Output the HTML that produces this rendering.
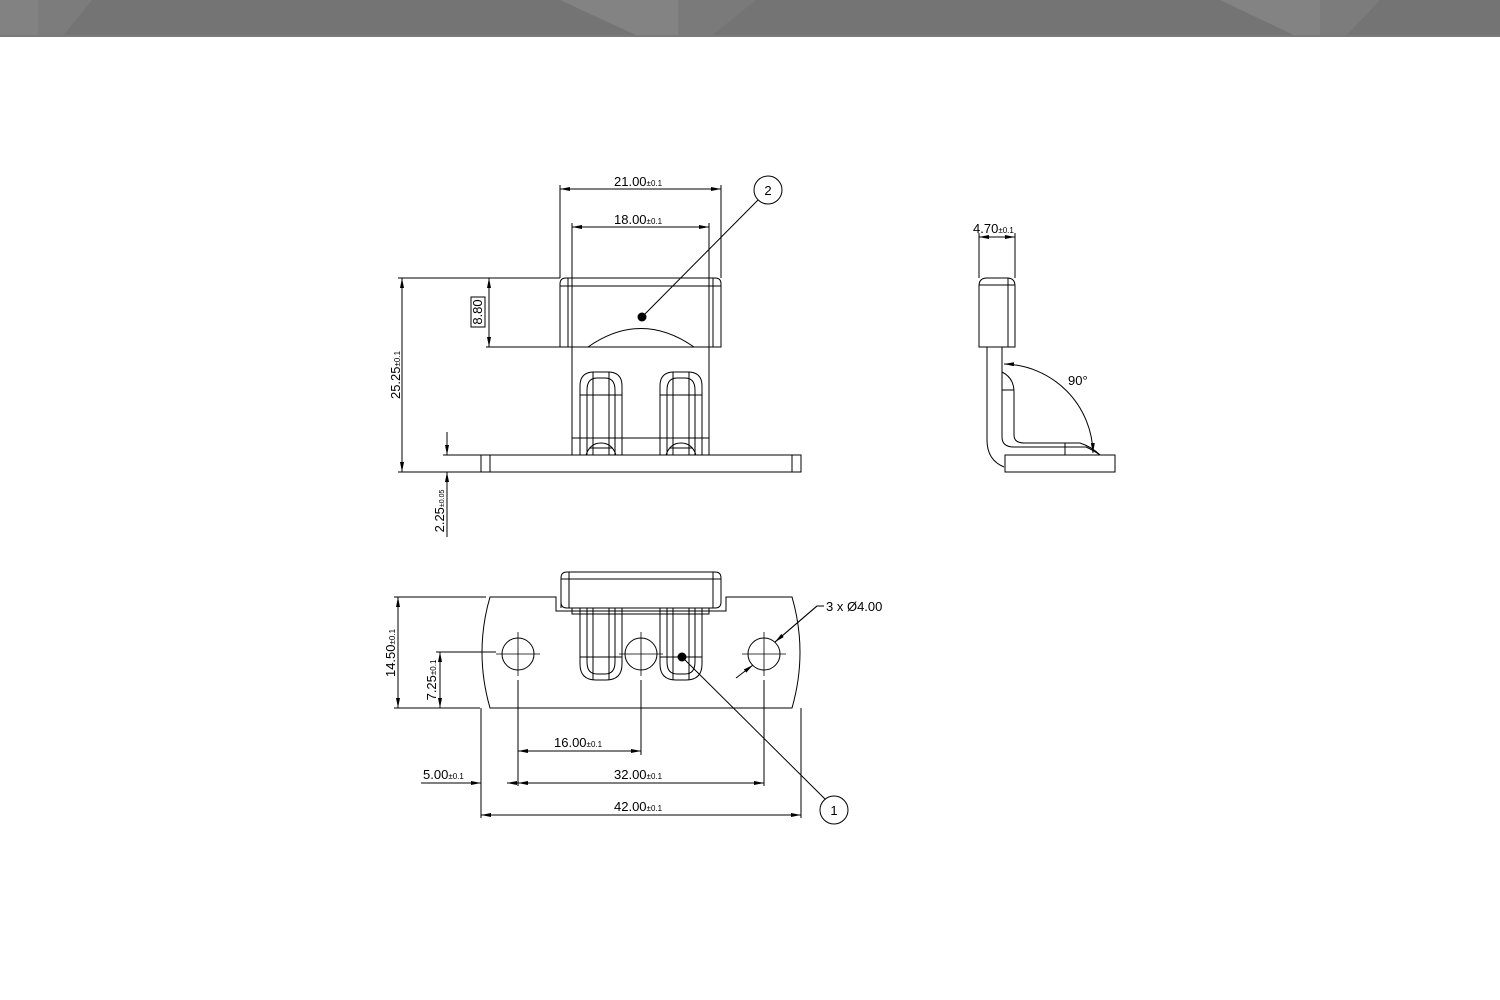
<!DOCTYPE html>
<html><head><meta charset="utf-8"><style>
html,body{margin:0;padding:0;background:#fff;}
svg{display:block;}
text{font-family:"Liberation Sans",Arial,sans-serif;fill:#000;}
</style></head><body>
<svg width="1500" height="1000" viewBox="0 0 1500 1000" xmlns="http://www.w3.org/2000/svg">
<defs>
<marker id="a" viewBox="0 0 10 4" refX="10" refY="2" markerWidth="10" markerHeight="4" markerUnits="userSpaceOnUse" orient="auto-start-reverse"><path d="M0,0 L10,2 L0,4z" fill="#000"/></marker>
</defs>
<!-- header -->
<rect x="0" y="0" width="1500" height="37" fill="#747474"/>
<polygon points="0,0 38,0 38,37 0,37" fill="#828282"/>
<polygon points="38,0 92,0 62,37 38,37" fill="#7c7c7c"/>
<polygon points="560,0 678,0 678,37 640,37" fill="#838383"/>
<polygon points="678,0 756,0 710,37 678,37" fill="#7a7a7a"/>
<polygon points="1220,0 1320,0 1320,37 1298,37" fill="#838383"/>
<polygon points="1320,0 1380,0 1345,37 1320,37" fill="#7c7c7c"/>
<rect x="0" y="35" width="1500" height="2" fill="#7a7a7a"/>

<g fill="none" stroke="#000" stroke-width="1">
<!-- FRONT VIEW -->
<path d="M560,185 V278 M721,185 V278 M572,223 V347 M709,223 V347"/>
<line x1="560" y1="189" x2="721" y2="189" marker-start="url(#a)" marker-end="url(#a)"/>
<line x1="572" y1="227" x2="709" y2="227" marker-start="url(#a)" marker-end="url(#a)"/>
<path d="M560,347 V284 Q560,278 566,278 H715 Q721,278 721,284 V347 Z"/>
<path d="M560,286 H721 M568,278 V347 M713,278 V347"/>
<path d="M588,347 Q641,310 694,347"/>
<path d="M572,347 V455 M709,347 V455 M572,438 H709"/>
<g id="sl">
<path d="M580,455 V386 Q580,372 594,372 H608 Q622,372 622,386 V455"/>
<path d="M587,455 V390 Q587,378 597,378 H605 Q615,378 615,390 V455"/>
<path d="M593,372 V455 M609,372 V455 M580,395 H622"/>
<path d="M586,455 Q590,443 601,443 Q612,443 616,455 M590,448 H612"/>
</g>
<use href="#sl" transform="translate(80,0)"/>
<rect x="481" y="455" width="320" height="17"/>
<path d="M490,455 V472 M792,455 V472"/>
<path d="M398,278 H560 M486,347 H572 M398,472 H481 M443,455 H481"/>
<line x1="402" y1="278" x2="402" y2="472" marker-start="url(#a)" marker-end="url(#a)"/>
<line x1="489" y1="278" x2="489" y2="347" marker-start="url(#a)" marker-end="url(#a)"/>
<line x1="447" y1="432" x2="447" y2="455" marker-end="url(#a)"/>
<line x1="447" y1="537" x2="447" y2="472" marker-end="url(#a)"/>
<rect x="471" y="297" width="14" height="30"/>
<circle cx="768" cy="190" r="14"/>
<line x1="758" y1="200" x2="642" y2="317"/>

<!-- SIDE VIEW -->
<path d="M979,233 V278 M1015,233 V278"/>
<line x1="979" y1="237" x2="1015" y2="237" marker-start="url(#a)" marker-end="url(#a)"/>
<path d="M979,347 V286 Q979,278 987,278 H1007 Q1015,278 1015,286 V347 Z"/>
<path d="M979,285 H1015 M1008,278 V347"/>
<path d="M987,347 V440 Q987,460 1004,467 M1002,347 V437 Q1002,447 1014,447 H1086 Q1093,450 1100,455"/>
<path d="M1002,372 Q1014,378 1014,392 V435 Q1014,443 1024,443 H1080 Q1092,447 1100,455 M1014,390 H1002 M1065,443 V455"/>
<rect x="1005" y="455" width="110" height="17"/>
<path d="M1004,364 A91,91 0 0 1 1093,453" marker-start="url(#a)" marker-end="url(#a)"/>

<!-- BOTTOM VIEW -->
<path d="M490,597 H556 V611 H726 V597 H792 Q808,652 792,708 H490 Q474,652 490,597 Z"/>
<path d="M561,608 V578 Q561,572 567,572 H715 Q721,572 721,578 V602 Q721,608 715,608 H567 Q561,608 561,602"/>
<path d="M561,579 H721 M569,572 V608 M713,572 V608 M572,608 V614 H709 V608"/>
<g id="bs">
<path d="M580,608 V664 Q580,680 596,680 H606 Q622,680 622,664 V608"/>
<path d="M587,608 V662 Q587,674 597,674 H605 Q615,674 615,662 V608"/>
<path d="M593,608 V680 M609,608 V680 M580,657 H622"/>
</g>
<use href="#bs" transform="translate(80,0)"/>
<circle cx="518" cy="654" r="16"/>
<circle cx="641" cy="654" r="16"/>
<circle cx="764" cy="654" r="16"/>
<path d="M496,654 H540 M518,632 V676 M619,654 H663 M641,632 V676 M742,654 H786 M764,632 V676" stroke-width="0.8"/>
<path d="M518,680 V786 M641,680 V755 M764,680 V786 M481,708 V818 M801,708 V818 M394,597 H486 M436,652 H496 M394,708 H480"/>
<line x1="398" y1="597" x2="398" y2="708" marker-start="url(#a)" marker-end="url(#a)"/>
<line x1="440" y1="652" x2="440" y2="708" marker-start="url(#a)" marker-end="url(#a)"/>
<line x1="518" y1="751" x2="641" y2="751" marker-start="url(#a)" marker-end="url(#a)"/>
<line x1="518" y1="783" x2="764" y2="783" marker-start="url(#a)" marker-end="url(#a)"/>
<path d="M421,783 H470"/>
<line x1="470" y1="783" x2="481" y2="783" marker-end="url(#a)"/>
<line x1="507" y1="783" x2="518" y2="783" marker-start="url(#a)"/>
<line x1="481" y1="815" x2="801" y2="815" marker-start="url(#a)" marker-end="url(#a)"/>
<path d="M824,606 H817 L775,642"/>
<line x1="817" y1="606" x2="775" y2="642" marker-end="url(#a)"/>
<line x1="736" y1="678" x2="753" y2="665" marker-end="url(#a)"/>
<circle cx="834" cy="810" r="14"/>
<line x1="682" y1="657" x2="825" y2="799"/>
</g>
<circle cx="642" cy="317" r="4.5" fill="#000"/>
<circle cx="682" cy="657" r="4.5" fill="#000"/>

<g font-size="13">
<text x="614" y="186">21.00<tspan font-size="8">±0.1</tspan></text>
<text x="614" y="224">18.00<tspan font-size="8">±0.1</tspan></text>
<text x="768" y="195" text-anchor="middle">2</text>
<text transform="translate(482,312) rotate(-90)" text-anchor="middle">8.80</text>
<text transform="translate(400,375) rotate(-90)" text-anchor="middle">25.25<tspan font-size="8">±0.1</tspan></text>
<text transform="translate(444,511) rotate(-90)" text-anchor="middle">2.25<tspan font-size="7">±0.05</tspan></text>
<text x="973" y="233">4.70<tspan font-size="8">±0.1</tspan></text>
<text x="1068" y="385">90°</text>
<text x="826" y="611">3 x Ø4.00</text>
<text transform="translate(395,653) rotate(-90)" text-anchor="middle">14.50<tspan font-size="8">±0.1</tspan></text>
<text transform="translate(436,680) rotate(-90)" text-anchor="middle">7.25<tspan font-size="8">±0.1</tspan></text>
<text x="554" y="747">16.00<tspan font-size="8">±0.1</tspan></text>
<text x="614" y="779">32.00<tspan font-size="8">±0.1</tspan></text>
<text x="423" y="779">5.00<tspan font-size="8">±0.1</tspan></text>
<text x="614" y="811">42.00<tspan font-size="8">±0.1</tspan></text>
<text x="834" y="815" text-anchor="middle">1</text>
</g>
</svg>
</body></html>
